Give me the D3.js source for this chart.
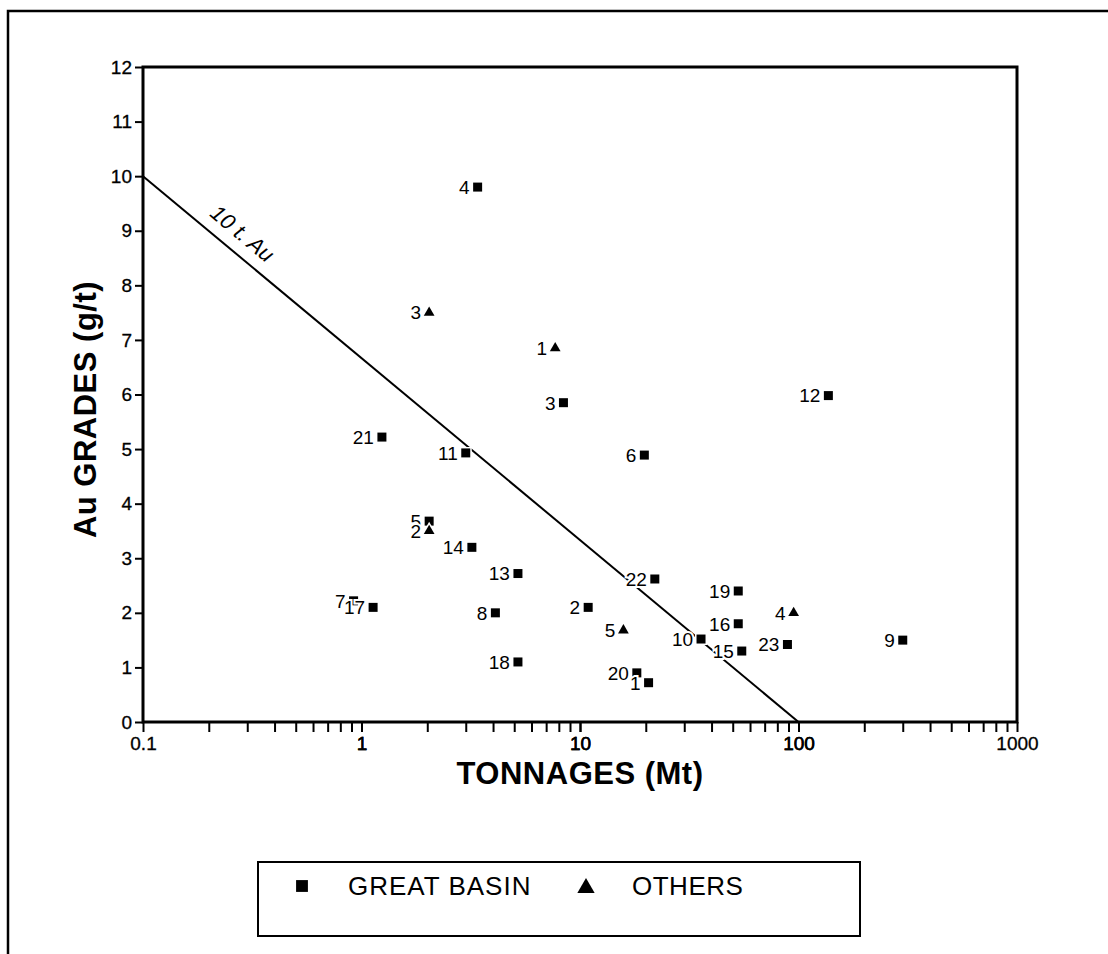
<!DOCTYPE html>
<html>
<head>
<meta charset="utf-8">
<script src="https://cdn.jsdelivr.net/npm/d3@7"></script>
<style>
  body { margin: 0; background: #fff; }
  svg { display: block; font-family: "Liberation Sans", Arial, Helvetica, sans-serif; }
</style>
</head>
<body>
<svg id="chart" width="1108" height="954"></svg>
<script>
// Great Basin deposits: id, tonnage (Mt), grade (g/t)
var basinIds = [1, 2, 3, 4, 5, 6, 7, 8, 9, 10, 11, 12, 13, 14, 15, 16, 17, 18, 19, 20, 21, 22, 23];
var basinTonnage = [20.6, 10.9, 8.4, 3.4, 2.04, 19.7, 0.92, 4.1, 300, 35.8, 3.0, 137, 5.2, 3.2, 55, 53, 1.13, 5.2, 53, 18.2, 1.24, 22, 89];
var basinGrade = [0.72, 2.1, 5.85, 9.8, 3.68, 4.89, 2.22, 2.0, 1.5, 1.52, 4.93, 5.98, 2.72, 3.2, 1.3, 1.8, 2.1, 1.1, 2.4, 0.9, 5.22, 2.62, 1.42];

// other deposits
var otherIds = [1, 2, 3, 4, 5];
var otherTonnage = [7.7, 2.04, 2.04, 95, 15.8];
var otherGrade = [6.85, 3.5, 7.5, 2.0, 1.68];

// 10 t Au reference line
var refTonnage = [0.1, 100];
var refGrade = [10, 0];

var xTicks = [0.1, 1, 10, 100, 1000];
var yTicks = [0, 1, 2, 3, 4, 5, 6, 7, 8, 9, 10, 11, 12];

var svg = d3.select("#chart");

var plotLeft = 143, plotRight = 1017, plotTop = 67, plotBottom = 722;

var x = d3.scaleLog().domain([0.1, 1000]).range([plotLeft, plotRight]);
var y = d3.scaleLinear().domain([0, 12]).range([plotBottom, plotTop]);

// outer frame (top and left only)
svg.append("path")
    .attr("d", "M8,954 L8,11 L1108,11")
    .attr("fill", "none")
    .attr("stroke", "#000")
    .attr("stroke-width", 2.5);

// plot box
svg.append("rect")
    .attr("x", plotLeft).attr("y", plotTop)
    .attr("width", plotRight - plotLeft).attr("height", plotBottom - plotTop)
    .attr("fill", "none")
    .attr("stroke", "#000")
    .attr("stroke-width", 3);

// x axis with log minor ticks
var minor = [];
for (var e = -1; e < 3; e++) {
    for (var m = 1; m <= 10; m++) minor.push(m * Math.pow(10, e));
}
var xAxis = svg.append("g")
    .attr("transform", "translate(0," + plotBottom + ")")
    .call(d3.axisBottom(x).tickValues(minor).tickSize(10).tickFormat(function (d) {
        return xTicks.some(function (t) { return Math.abs(t - d) / t < 1e-6; }) ? d3.format("~g")(d) : "";
    }).tickPadding(5));
xAxis.select(".domain").remove();
xAxis.selectAll("line").attr("stroke-width", 2);
xAxis.selectAll("text").attr("font-size", 19).attr("fill", "#000").attr("font-family", null)
    .attr("stroke", "#000").attr("stroke-width", 0.3);

var yAxis = svg.append("g")
    .attr("transform", "translate(" + plotLeft + ",0)")
    .call(d3.axisLeft(y).tickValues(yTicks).tickSize(8).tickPadding(3));
yAxis.select(".domain").remove();
yAxis.selectAll("line").attr("stroke-width", 2);
yAxis.selectAll("text").attr("font-size", 19).attr("fill", "#000").attr("font-family", null)
    .attr("stroke", "#000").attr("stroke-width", 0.3);

// axis titles
svg.append("text")
    .attr("x", 580)
    .attr("y", 784)
    .attr("text-anchor", "middle")
    .attr("font-size", 31)
    .attr("font-weight", "bold")
    .attr("letter-spacing", 0.5)
    .text("TONNAGES (Mt)");

svg.append("text")
    .attr("transform", "translate(96," + ((plotTop + plotBottom) / 2 + 15) + ") rotate(-90)")
    .attr("text-anchor", "middle")
    .attr("font-size", 31)
    .attr("font-weight", "bold")
    .attr("letter-spacing", 0.5)
    .text("Au GRADES (g/t)");

// reference line
var refLine = d3.line()
    .x(function (d) { return x(d[0]); })
    .y(function (d) { return y(d[1]); });
svg.append("path")
    .datum(d3.zip(refTonnage, refGrade))
    .attr("d", refLine)
    .attr("fill", "none")
    .attr("stroke", "#000")
    .attr("stroke-width", 2);

// label along the line
var angle = Math.atan2(y(refGrade[1]) - y(refGrade[0]), x(refTonnage[1]) - x(refTonnage[0])) * 180 / Math.PI;
var tLab = 0.25;
var gLab = refGrade[0] + (refGrade[1] - refGrade[0]) * (Math.log10(tLab) - Math.log10(refTonnage[0])) / (Math.log10(refTonnage[1]) - Math.log10(refTonnage[0]));
svg.append("text")
    .attr("transform", "translate(" + x(tLab) + "," + y(gLab) + ") rotate(" + angle + ")")
    .attr("dy", -12)
    .attr("text-anchor", "middle")
    .attr("font-size", 22)
    .attr("font-style", "italic")
    .text("10 t. Au");

var basin = basinIds.map(function (id, i) { return { id: id, t: basinTonnage[i], g: basinGrade[i] }; });
var others = otherIds.map(function (id, i) { return { id: id, t: otherTonnage[i], g: otherGrade[i] }; });

var square = d3.symbol().type(d3.symbolSquare).size(81);
var triangle = d3.symbol().type(d3.symbolTriangle).size(50);

function drawSeries(data, sym) {
    var g = svg.append("g");
    g.selectAll("path")
        .data(data)
        .enter().append("path")
        .attr("transform", function (d) { return "translate(" + x(d.t) + "," + y(d.g) + ")"; })
        .attr("d", sym)
        .attr("fill", "#000")
        .attr("stroke", "#fff")
        .attr("stroke-width", 3)
        .style("paint-order", "stroke");
    g.selectAll("text")
        .data(data)
        .enter().append("text")
        .attr("x", function (d) { return x(d.t) - 8; })
        .attr("y", function (d) { return y(d.g); })
        .attr("dy", "0.36em")
        .attr("text-anchor", "end")
        .attr("font-size", 19)
        .attr("stroke", "#fff")
        .attr("stroke-width", 4)
        .style("paint-order", "stroke")
        .text(function (d) { return d.id; });
}
drawSeries(basin, square);
drawSeries(others, triangle);

// legend
var lg = svg.append("g");
lg.append("rect")
    .attr("x", 258).attr("y", 862)
    .attr("width", 602).attr("height", 74)
    .attr("fill", "none")
    .attr("stroke", "#000")
    .attr("stroke-width", 2);
lg.append("path")
    .attr("transform", "translate(302,886)")
    .attr("d", d3.symbol().type(d3.symbolSquare).size(140))
    .attr("fill", "#000");
lg.append("text")
    .attr("x", 348).attr("y", 895)
    .attr("font-size", 26)
    .attr("letter-spacing", 1)
    .text("GREAT BASIN");
lg.append("path")
    .attr("transform", "translate(586,888)")
    .attr("d", d3.symbol().type(d3.symbolTriangle).size(130))
    .attr("fill", "#000");
lg.append("text")
    .attr("x", 632).attr("y", 895)
    .attr("font-size", 26)
    .attr("letter-spacing", 0.5)
    .text("OTHERS");
</script>
</body>
</html>
